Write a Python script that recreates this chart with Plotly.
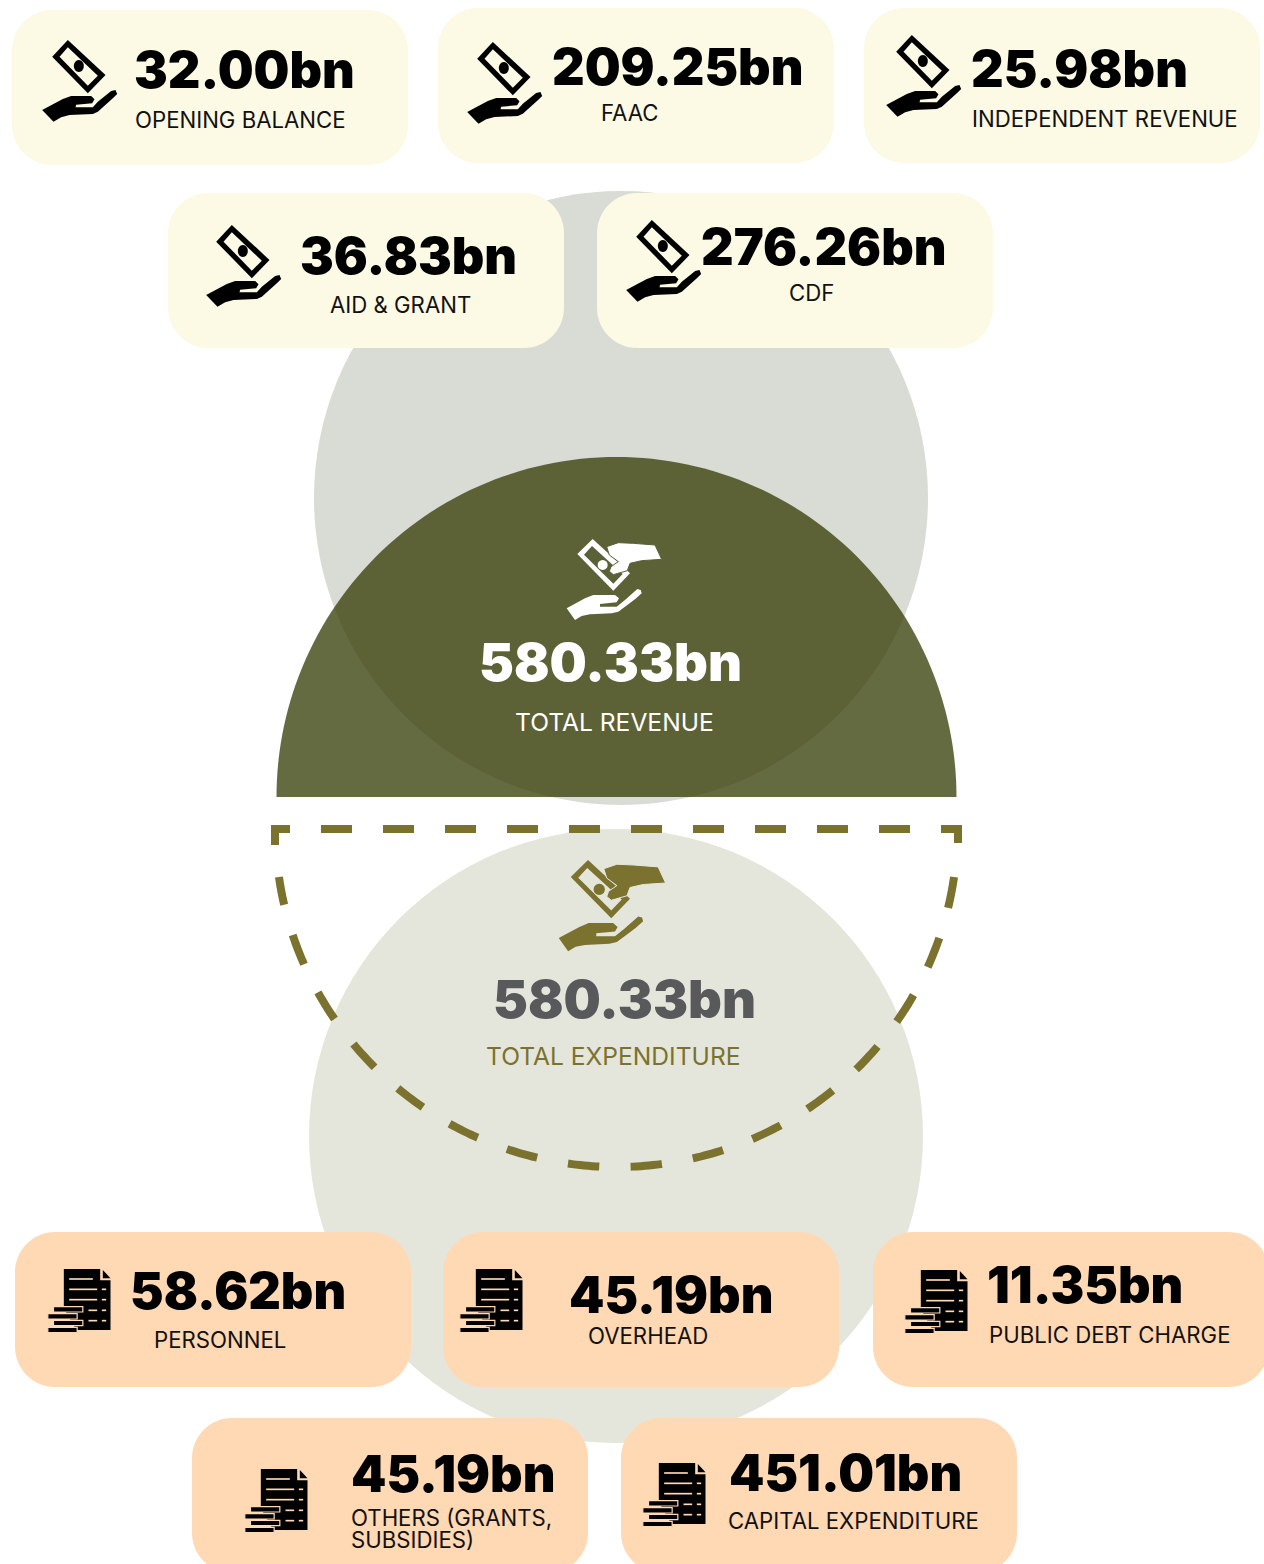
import numpy as np
import plotly.graph_objects as go

# ---------- data ----------
revenue_labels = ["OPENING BALANCE", "FAAC", "INDEPENDENT REVENUE", "AID & GRANT", "CDF"]
revenue_values = [32.00, 209.25, 25.98, 36.83, 276.26]
spend_labels = ["PERSONNEL", "OVERHEAD", "PUBLIC DEBT CHARGE", "OTHERS (GRANTS,\nSUBSIDIES)", "CAPITAL EXPENDITURE"]
spend_values = [58.62, 45.19, 11.35, 45.19, 451.01]
total_revenue = 580.33
total_expenditure = 580.33

# ---------- layout / style ----------
W, H = 1264, 1564
CREAM, PEACH = "#FCFAE5", "#FFD8B4"
OLIVE = "#7A722E"
VALUE_FONT = "Inter"
LABEL_FONT = "Inter"
VSIZE, LSIZE = 50.5, 22.2

rev_cards = [(12, 10), (438, 8), (864, 8), (168, 193), (597, 193)]
rev_icons = [(29.5, 30), (454.5, 32), (873.5, 25), (193.5, 215), (613.5, 210)]
rev_vpos = [(132, 69), (550, 66), (969, 68), (298, 255), (699, 246)]
rev_lpos = [(133, 119), (599, 112), (970, 118), (328, 304), (787, 292)]

sp_cards = [(15, 1232), (443, 1232), (873, 1232), (192, 1418), (621, 1418)]
sp_icons = [(34.5, 1255), (446.5, 1255), (891.5, 1256), (231.5, 1455), (629.5, 1449)]
sp_vpos = [(128, 1290), (567, 1294), (985, 1284), (349, 1473), (727, 1472)]
sp_lpos = [(152, 1339), (586, 1335), (987, 1334), (349, 1517), (726, 1520)]

shapes, annots = [], []


def poly(pts):
    return "M" + " L".join(f"{x:.2f},{y:.2f}" for x, y in pts) + " Z"


def add(path, fill, line=None, lw=0):
    shapes.append(dict(type="path", path=path, fillcolor=fill, layer="above",
                       line=dict(color=line or fill, width=lw)))


def circle(cx, cy, r, fill):
    shapes.append(dict(type="circle", x0=cx - r, x1=cx + r, y0=cy - r, y1=cy + r,
                       fillcolor=fill, line=dict(width=0), layer="above"))


def card(x, y, fill, w=396, h=155, r=40):
    k = r * 0.45
    p = (f"M{x+r},{y} L{x+w-r},{y} C{x+w-k},{y} {x+w},{y+k} {x+w},{y+r} L{x+w},{y+h-r} "
         f"C{x+w},{y+h-k} {x+w-k},{y+h} {x+w-r},{y+h} L{x+r},{y+h} C{x+k},{y+h} {x},{y+h-k} {x},{y+h-r} "
         f"L{x},{y+r} C{x},{y+k} {x+k},{y} {x+r},{y} Z")
    add(p, fill)


def xf(pts, ox, oy, s=1.0):
    return [(ox + px / 3 * s, oy + py / 3 * s) for px, py in pts]


def ring(cx, cy, r, ox, oy, s=1.0, ry=None):
    t = np.linspace(0, 2 * np.pi, 24, endpoint=False)
    return xf(list(zip(cx + r * np.cos(t), cy + (ry or r) * np.sin(t))), ox, oy, s)


def money_icon(ox, oy):
    add(poly(xf([(115, 30), (228, 135), (175, 190), (68, 80)], ox, oy)), "#000000")
    add(poly(xf([(115, 52), (205, 137), (175, 167), (90, 80)], ox, oy)), CREAM)
    add(poly(ring(148, 108, 15, ox, oy, ry=18)), "#000000")
    add(poly(xf([(38, 240), (100, 207), (125, 198), (185, 198), (195, 208), (188, 220), (140, 224),
                 (138, 232), (190, 232), (205, 215), (245, 183), (258, 180), (263, 192), (250, 205),
                 (205, 245), (190, 252), (120, 255), (95, 262), (72, 275)], ox, oy)), "#000000")


def doc_icon(ox, oy):
    add(poly(xf([(88, 42), (197, 42), (197, 76), (228, 76), (228, 225), (125, 225), (88, 160)], ox, oy)), "#000000")
    add(poly(xf([(205, 45), (228, 70), (205, 70)], ox, oy)), "#000000")
    for y, x0, x1 in [(72, 104, 175), (103, 104, 188), (103, 202, 215), (134, 104, 188), (134, 202, 215),
                      (166, 162, 188), (166, 202, 215), (197, 162, 188), (197, 202, 215)]:
        add(poly(xf([(x0, y - 2.5), (x1, y - 2.5), (x1, y + 2.5), (x0, y + 2.5)], ox, oy)), PEACH)
    for y, x0 in [(155, 57), (176, 40), (196, 57), (217, 40)]:
        add(poly(xf([(x0, y), (x0 + 88, y), (x0 + 88, y + 16), (x0, y + 16)], ox, oy)), "#000000", PEACH, 1.2)


def give_icon(ox, oy, color, bg, s=1.0):
    add(poly(xf([(128, 27), (240, 130), (190, 182), (82, 72)], ox, oy, s)), color)
    add(poly(xf([(126, 48), (218, 132), (190, 161), (102, 74)], ox, oy, s)), bg)
    add(poly(ring(158, 105, 15, ox, oy, s)), color)
    add(poly(xf([(170, 50), (205, 38), (250, 40), (315, 45), (335, 88), (275, 92), (240, 100),
                 (232, 122), (190, 134), (178, 124), (183, 110), (205, 95), (178, 75)], ox, oy, s)),
        color, bg, 1.0)
    add(poly(xf([(50, 235), (105, 205), (130, 195), (195, 195), (207, 205), (200, 217), (150, 222),
                 (150, 230), (200, 230), (225, 210), (262, 177), (272, 180), (275, 190), (255, 208),
                 (205, 245), (185, 250), (120, 253), (95, 258), (75, 270)], ox, oy, s)), color)


def text(x, y, s, size, color, font, weight=400, anchor="left"):
    annots.append(dict(x=x, y=y, text=s, showarrow=False, xanchor=anchor, yanchor="middle",
                       xref="x", yref="y", align="left",
                       font=dict(family=font, size=size, color=color, weight=weight)))


# background discs
circle(621, 498, 307, "#D9DBD5")
circle(616, 1136, 307, "#E5E6DB")

# solid half disc
t = np.linspace(np.pi, 0, 121)
semi = list(zip(616.5 + 340 * np.cos(t), 797 - 340 * np.sin(t)))
add(poly(semi), "rgba(50,58,0,0.75)")

# dashed half disc: top edge, then arc
top = "M275,845 L275,829 L958,829 L958,845"
shapes.append(dict(type="path", path=top, layer="above",
                   line=dict(color=OLIVE, width=8, dash="31px,31px")))
a0 = np.arcsin(48 / 338)
t = np.linspace(a0, np.pi - a0, 241)
arc = "M" + " L".join(f"{616.5 + 341 * np.cos(v):.2f},{829 + 338 * np.sin(v):.2f}" for v in t)
shapes.append(dict(type="path", path=arc, layer="above",
                   line=dict(color=OLIVE, width=8, dash="31.4px,31.4px")))

# cards
for i in range(5):
    card(*rev_cards[i], CREAM)
    money_icon(*rev_icons[i])
    text(*rev_vpos[i], f"{revenue_values[i]:.2f}bn", VSIZE, "#000000", VALUE_FONT, 900)
    text(*rev_lpos[i], revenue_labels[i], LSIZE, "#111111", LABEL_FONT)

for i in range(5):
    card(*sp_cards[i], PEACH)
    doc_icon(*sp_icons[i])
    text(*sp_vpos[i], f"{spend_values[i]:.2f}bn", VSIZE, "#000000", VALUE_FONT, 900)
    for j, line in enumerate(spend_labels[i].split("\n")):
        text(sp_lpos[i][0], sp_lpos[i][1] + j * 22, line, LSIZE, "#111111", LABEL_FONT)

# centre totals
give_icon(550, 530, "#FFFFFF", "#5A6038")
text(610, 662, f"{total_revenue:.2f}bn", 52.5, "#FFFFFF", VALUE_FONT, 900, "center")
text(614, 721.5, "TOTAL REVENUE", 24.6, "#FFFFFF", LABEL_FONT, 400, "center")

give_icon(540, 850, OLIVE, "#E5E6DB", 1.125)
text(624, 999, f"{total_expenditure:.2f}bn", 52.5, "#58595B", VALUE_FONT, 900, "center")
text(613, 1055.5, "TOTAL EXPENDITURE", 24.6, OLIVE, LABEL_FONT, 400, "center")

fig = go.Figure()
fig.update_layout(
    width=W, height=H, margin=dict(l=0, r=0, t=0, b=0),
    paper_bgcolor="#FFFFFF", plot_bgcolor="#FFFFFF", showlegend=False,
    xaxis=dict(range=[0, W], visible=False, fixedrange=True),
    yaxis=dict(range=[H, 0], visible=False, fixedrange=True),
    shapes=shapes, annotations=annots,
)
fig.write_html("out.html", config={"displayModeBar": False},
               post_script="document.body.style.margin='0';document.body.style.overflow='hidden';")
